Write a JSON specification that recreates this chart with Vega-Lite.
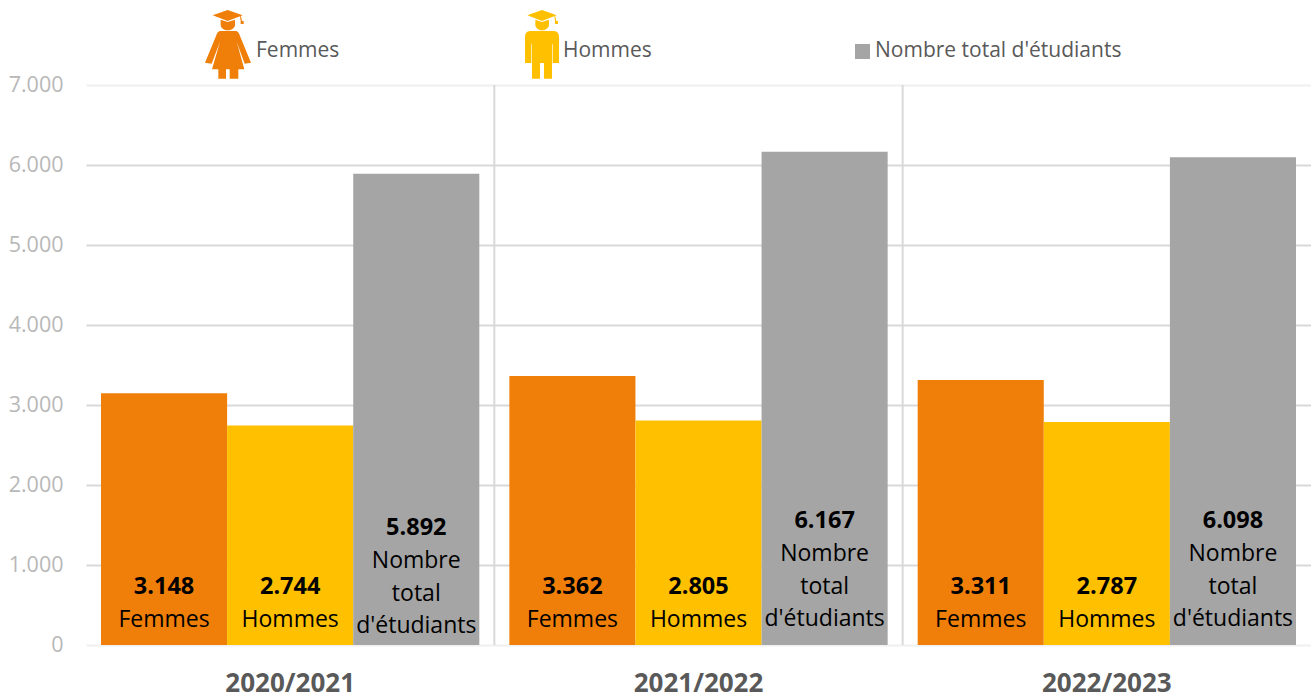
{"$schema":"https://vega.github.io/schema/vega-lite/v6.json","width":1225,"height":560,"autosize":"none","padding":{"left":86,"top":85,"right":0,"bottom":54},"background":"white",
"config":{"view":{"stroke":null},"font":"Open Sans","locale":{"number":{"decimal":",","thousands":".","grouping":[3],"currency":["","€"]}}},
"data":{"values":[
{"year":"2020/2021","series":"Femmes","value":3148},{"year":"2020/2021","series":"Hommes","value":2744},{"year":"2020/2021","series":"Nombre total d'étudiants","value":5892},
{"year":"2021/2022","series":"Femmes","value":3362},{"year":"2021/2022","series":"Hommes","value":2805},{"year":"2021/2022","series":"Nombre total d'étudiants","value":6167},
{"year":"2022/2023","series":"Femmes","value":3311},{"year":"2022/2023","series":"Hommes","value":2787},{"year":"2022/2023","series":"Nombre total d'étudiants","value":6098}]},
"encoding":{
"x":{"field":"year","type":"nominal","title":null,"scale":{"paddingInner":0,"paddingOuter":0},"axis":{"labelAngle":0,"domain":false,"ticks":false,"labelPadding":25,"labelFontSize":26,"labelFontWeight":"bold","labelColor":"#595959","grid":false}},
"y":{"field":"value","type":"quantitative","title":null,"scale":{"domain":[0,7000],"nice":false},"axis":{"values":[0,1000,2000,3000,4000,5000,6000,7000],"labelExpr":"format(datum.value,',')","domain":false,"ticks":false,"labelPadding":23,"labelFontSize":21.5,"labelColor":"#B8B8B8","gridColor":{"condition":{"test":"datum.value===7000||datum.value===0","value":"#F0F0F0"},"value":"#D9D9D9"},"gridWidth":2}}},
"layer":[
{"transform":[{"filter":"datum.series==='Femmes'&&datum.year!=='2022/2023'"}],"mark":{"type":"rule","stroke":"#D9D9D9","strokeWidth":2},"encoding":{"x":{"field":"year","type":"nominal","bandPosition":1},"y":{"value":0},"y2":{"value":560}}},
{"mark":{"type":"bar"},"encoding":{"xOffset":{"field":"series","type":"nominal","scale":{"paddingInner":0,"paddingOuter":0.119}},"color":{"field":"series","type":"nominal","title":null,"scale":{"domain":["Femmes","Hommes","Nombre total d'étudiants"],"range":["#F07F09","#FFC000","#A5A5A5"]},"legend":{"orient":"none","legendX":107,"legendY":-69,"direction":"horizontal","title":null,"symbolSize":4900,"symbolStrokeWidth":0,"labelFontSize":21,"labelLimit":400,"labelColor":"#595959","labelOffset":-7,"columnPadding":160,"gridAlign":"each","symbolOpacity":1}}}},
{"mark":{"type":"point","filled":true,"size":0,"opacity":1},"encoding":{"xOffset":{"field":"series","type":"nominal"},"color":{"field":"series","type":"nominal","title":null},"shape":{"field":"series","type":"nominal","title":null,"scale":{"domain":["Femmes","Hommes","Nombre total d'étudiants"],"range":[
"M-1,-1.171L-1,-1.171ZM1,1L1,1ZM-0.438,-1.019L-0.01,-1.171L0.419,-1.019L-0.01,-0.857ZM0.343,-0.99L0.371,-0.99L0.4,-0.857L0.448,-0.857L0.448,-0.771L0.362,-0.771L0.362,-0.857ZM-0.21,-0.895L-0.01,-0.829L0.2,-0.895L0.2,-0.743C0.2,-0.667,0.105,-0.59,-0.01,-0.59C-0.124,-0.59,-0.21,-0.667,-0.21,-0.743ZM-0.229,-0.571L0.229,-0.571Q0.305,-0.552,0.343,-0.429L0.657,0.333L0.476,0.362L0.248,-0.267L0.467,0.524L0.295,0.524L0.295,0.79L0.048,0.79L0.048,0.524L-0.057,0.524L-0.057,0.79L-0.276,0.79L-0.276,0.524L-0.457,0.524L-0.229,-0.267L-0.467,0.362L-0.657,0.333L-0.343,-0.429Q-0.305,-0.552,-0.229,-0.571Z",
"M-1,-1.171L-1,-1.171ZM1,1L1,1ZM-0.219,-1.019L0.2,-1.171L0.619,-1.019L0.2,-0.857ZM0.552,-0.99L0.581,-0.99L0.61,-0.857L0.657,-0.857L0.657,-0.771L0.571,-0.771L0.571,-0.857ZM0.01,-0.895L0.2,-0.829L0.4,-0.895L0.4,-0.743C0.4,-0.667,0.3,-0.59,0.2,-0.59C0.1,-0.59,0.01,-0.667,0.01,-0.743ZM-0.143,-0.571L0.543,-0.571Q0.686,-0.552,0.686,-0.4L0.686,0.343L0.505,0.343L0.505,-0.19L0.486,-0.19L0.486,0.79L0.257,0.79L0.257,0.343L0.143,0.343L0.143,0.79L-0.086,0.79L-0.086,-0.19L-0.105,-0.19L-0.105,0.343L-0.286,0.343L-0.286,-0.4Q-0.286,-0.552,-0.143,-0.571Z",
"M-1,-1.171L-1,-1.171ZM1,1L1,1ZM0.229,-0.2L0.657,-0.2L0.657,0.229L0.229,0.229Z"]},"legend":{"orient":"none","legendX":107,"legendY":-69,"direction":"horizontal","title":null,"symbolSize":4900,"symbolStrokeWidth":0,"labelFontSize":21,"labelLimit":400,"labelColor":"#595959","labelOffset":-7,"columnPadding":160,"gridAlign":"each","symbolOpacity":1}}}},
{"transform":[{"filter":"datum.value<4000"}],"mark":{"type":"text","fontSize":23.5,"fontWeight":"bold","color":"black","dy":-58},"encoding":{"xOffset":{"field":"series","type":"nominal"},"y":{"datum":0},"text":{"field":"value","type":"quantitative","format":","}}},
{"transform":[{"filter":"datum.value<4000"}],"mark":{"type":"text","fontSize":23,"color":"black","dy":-25},"encoding":{"xOffset":{"field":"series","type":"nominal"},"y":{"datum":0},"text":{"field":"series","type":"nominal"}}},
{"transform":[{"filter":"datum.value>=4000&&datum.year==='2020/2021'"}],"mark":{"type":"text","fontSize":23.5,"fontWeight":"bold","color":"black","dy":-117},"encoding":{"xOffset":{"field":"series","type":"nominal"},"y":{"datum":0},"text":{"field":"value","type":"quantitative","format":","}}},
{"transform":[{"filter":"datum.value>=4000&&datum.year==='2020/2021'"}],"mark":{"type":"text","fontSize":23,"color":"black","dy":-84,"lineBreak":" ","lineHeight":32.5},"encoding":{"xOffset":{"field":"series","type":"nominal"},"y":{"datum":0},"text":{"field":"series","type":"nominal"}}},
{"transform":[{"filter":"datum.value>=4000&&datum.year!=='2020/2021'"}],"mark":{"type":"text","fontSize":23.5,"fontWeight":"bold","color":"black","dy":-124},"encoding":{"xOffset":{"field":"series","type":"nominal"},"y":{"datum":0},"text":{"field":"value","type":"quantitative","format":","}}},
{"transform":[{"filter":"datum.value>=4000&&datum.year!=='2020/2021'"}],"mark":{"type":"text","fontSize":23,"color":"black","dy":-91,"lineBreak":" ","lineHeight":32.5},"encoding":{"xOffset":{"field":"series","type":"nominal"},"y":{"datum":0},"text":{"field":"series","type":"nominal"}}}
]}
